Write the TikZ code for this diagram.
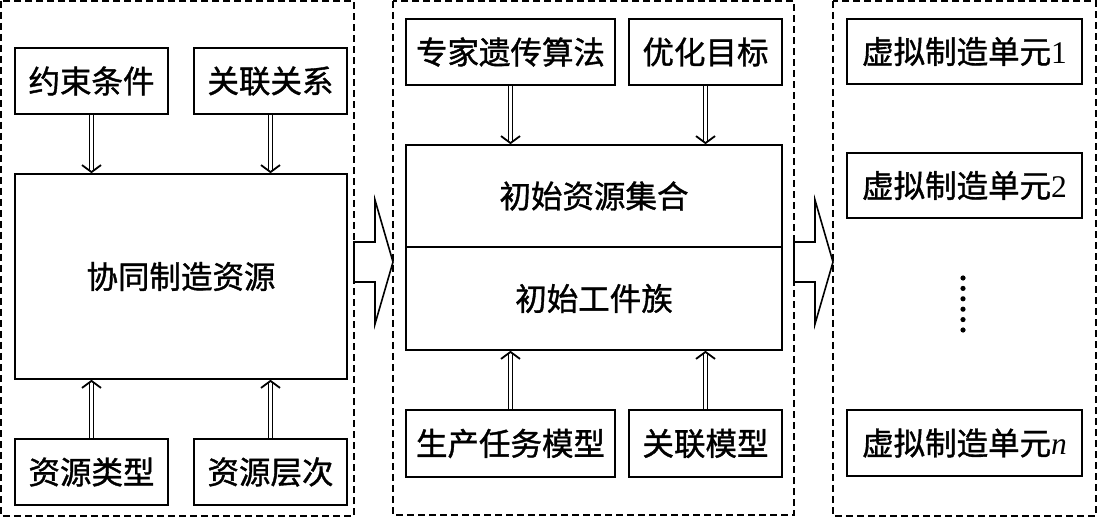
\documentclass[tikz,border=0pt]{standalone}
\usepackage{fontspec}
\setmainfont{Liberation Serif}
\newfontfamily\cjk[FakeBold=1.2]{Noto Sans CJK SC}
\usetikzlibrary{arrows.meta,positioning,calc,decorations.markings}

\begin{document}
\begin{tikzpicture}[x=1pt,y=-1pt,
  box/.style={draw, line width=1.6pt, inner sep=0pt, font=\cjk\fontsize{31.5}{34}\selectfont},
  frame/.style={draw, line width=1.5pt, dash pattern=on 7pt off 4pt},
  dbl/.style={double, double distance=2.8pt, line width=1.4pt, shorten >=2pt,
              decoration={markings, mark=at position 1 with
                {\arrow[line width=1.8pt]{Straight Barb[length=7pt,width=19pt]}}},
              postaction={decorate}},
  hollow/.style={draw, line width=1.6pt, fill=white, line join=miter}]
  \useasboundingbox (0,0) rectangle (1097,518);
  % frames
  \draw[frame] (1,1) rectangle (354,516);
  \draw[frame] (393,1) rectangle (794,515);
  \draw[frame] (833,1) rectangle (1096,516);
  % left group
  \node[box, minimum width=153pt, minimum height=66pt] (yue) at (91.5,81) {约束条件};
  \node[box, minimum width=153pt, minimum height=66pt] (glx) at (270.5,81) {关联关系};
  \node[box, minimum width=332pt, minimum height=205pt] (xt) at (181,276.5) {协同制造资源};
  \node[box, minimum width=153pt, minimum height=66pt] (lx) at (91.5,472) {资源类型};
  \node[box, minimum width=153pt, minimum height=66pt] (cc) at (270.5,472) {资源层次};
  \draw[dbl] (yue.south) -- (yue.south |- xt.north);
  \draw[dbl] (glx.south) -- (glx.south |- xt.north);
  \draw[dbl] (lx.north) -- (lx.north |- xt.south);
  \draw[dbl] (cc.north) -- (cc.north |- xt.south);
  % middle group
  \node[box, minimum width=209pt, minimum height=66pt] (zj) at (510.5,52) {专家遗传算法};
  \node[box, minimum width=153pt, minimum height=66pt] (yh) at (705.5,52) {优化目标};
  \node[box, minimum width=376pt, minimum height=102pt] (jh) at (594,196) {初始资源集合};
  \node[box, minimum width=376pt, minimum height=103pt] (zu) at (594,298.5) {初始工件族};
  \node[box, minimum width=209pt, minimum height=67pt] (rw) at (510.5,443.5) {生产任务模型};
  \node[box, minimum width=153pt, minimum height=67pt] (gm) at (705.5,443.5) {关联模型};
  \draw[dbl] (zj.south) -- (zj.south |- jh.north);
  \draw[dbl] (yh.south) -- (yh.south |- jh.north);
  \draw[dbl] (rw.north) -- (rw.north |- zu.south);
  \draw[dbl] (gm.north) -- (gm.north |- zu.south);
  % right group
  \node[box, minimum width=235pt, minimum height=65pt] (u1) at (964.5,51.5) {虚拟制造单元{\rmfamily 1}};
  \node[box, minimum width=235pt, minimum height=65pt] (u2) at (964.5,185.5) {虚拟制造单元{\rmfamily 2}};
  \node[box, minimum width=235pt, minimum height=66pt] (un) at (964.5,443) {虚拟制造单元{\rmfamily\itshape n}};
  \foreach \i in {0,...,5}
    \fill (963,278+\i*10.4) circle (2.6pt);
  % hollow arrows between frames
  \draw[hollow] (354,242) -- (375,242) -- (375,200) -- (393,262) -- (375,324) -- (375,282) -- (354,282) -- cycle;
  \draw[hollow] (794,242) -- (815,242) -- (815,200) -- (833,262) -- (815,324) -- (815,282) -- (794,282) -- cycle;
\end{tikzpicture}
\end{document}
